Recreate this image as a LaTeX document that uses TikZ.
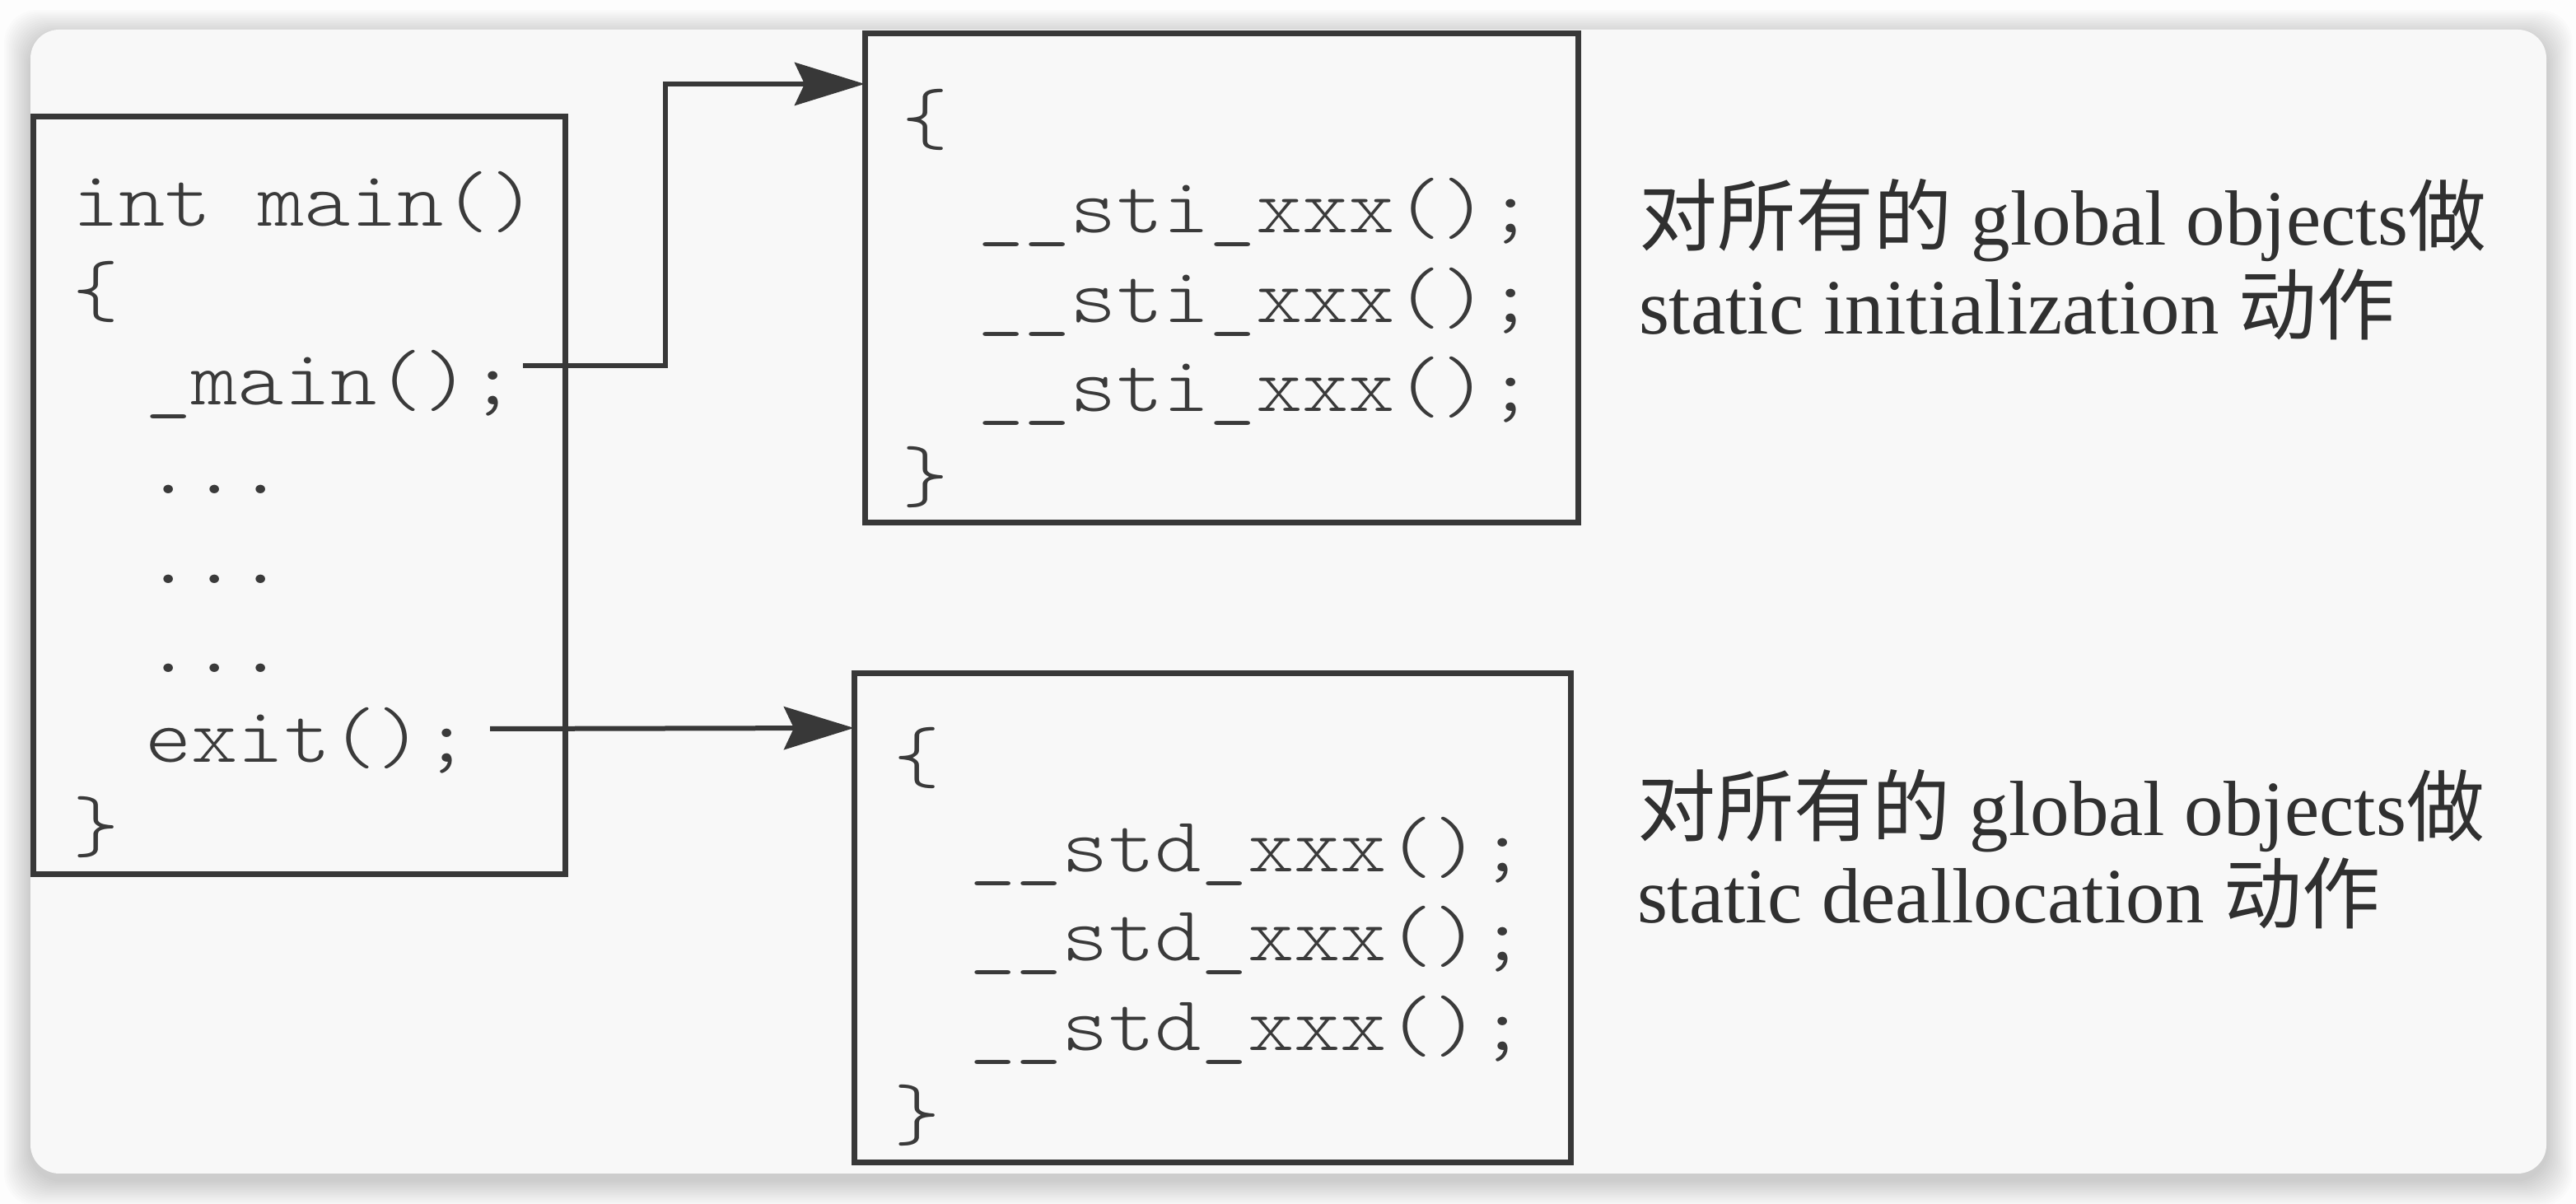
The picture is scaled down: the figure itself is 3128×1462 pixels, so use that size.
\documentclass[tikz,border=0pt]{standalone}
\usepackage{fontspec}
\setmainfont{Liberation Serif}
\setmonofont[FakeStretch=1.13]{Latin Modern Mono Light}
\newfontfamily\cjk{Noto Sans CJK SC}
\usetikzlibrary{arrows.meta}
\definecolor{pagecol}{HTML}{FDFDFD}
\definecolor{panelcol}{HTML}{F8F8F8}
\definecolor{linecol}{HTML}{383838}
\definecolor{codecol}{HTML}{3A3A3A}
\definecolor{txtcol}{HTML}{303030}
\newcommand{\codefont}{\ttfamily\fontsize{9.5pt}{10.85pt}\selectfont}
\newcommand{\notefont}{\rmfamily\fontsize{9.5pt}{10.8pt}\selectfont}
\tikzset{
  codebox/.style={draw=linecol, line width=0.7pt, inner sep=0pt, outer sep=0pt, anchor=north west},
  codeline/.style={anchor=base west, inner sep=0pt, outer sep=0pt, font=\codefont, text=codecol},
  noteline/.style={anchor=base west, inner sep=0pt, outer sep=0pt, font=\notefont, text=txtcol},
  conn/.style={draw=linecol, line width=0.6pt, -{Stealth[length=8.5pt,width=5.2pt,inset=1.2pt]}}
}
\begin{document}
\begin{tikzpicture}[x=0.1pt,y=-0.1pt]
\useasboundingbox (0,0) rectangle (3128,1462);
\fill[pagecol] (0,0) rectangle (3128,1462);
% soft shadow of the panel
\foreach \s in {2,4,...,32}{
  \fill[black,opacity=0.011,rounded corners=4pt] ({37-\s},{36-\s+8}) rectangle ({3092+\s},{1425+\s+8});
}
\fill[panelcol,rounded corners=3.5pt] (37,36) rectangle (3092,1425);

% boxes
\node[codebox, minimum width=64.7pt, minimum height=92pt] (main) at (40,142) {};
\node[codebox, minimum width=86.7pt, minimum height=59.4pt] (top) at (1050,41) {};
\node[codebox, minimum width=87.1pt, minimum height=59.4pt] (bot) at (1037,818) {};

% main code
\node[codeline] (m1) at (88,275) {int main()};
\node[codeline] (m2) at (88,384) {\{};
\node[codeline] (m3) at (176,492) {\_main();};
\node[codeline] (m4) at (176,600) {...};
\node[codeline] (m5) at (176,709) {...};
\node[codeline] (m6) at (176,817) {...};
\node[codeline] (m7) at (176,926) {exit();};
\node[codeline] (m8) at (88,1034) {\}};

% top code
\node[codeline] (t1) at (1095,175) {\{};
\node[codeline] (t2) at (1187,283) {\_\_sti\_xxx();};
\node[codeline] (t3) at (1187,392) {\_\_sti\_xxx();};
\node[codeline] (t4) at (1187,500) {\_\_sti\_xxx();};
\node[codeline] (t5) at (1095,609) {\}};

% bottom code
\node[codeline] (b1) at (1085,950) {\{};
\node[codeline] (b2) at (1177,1059) {\_\_std\_xxx();};
\node[codeline] (b3) at (1177,1167) {\_\_std\_xxx();};
\node[codeline] (b4) at (1177,1276) {\_\_std\_xxx();};
\node[codeline] (b5) at (1085,1384) {\}};

% notes
\node[noteline] (n1) at (1990,298) {{\cjk 对所有的} global objects{\cjk 做}};
\node[noteline] (n2) at (1990,406) {static initialization {\cjk 动作}};
\node[noteline] (n3) at (1988,1015) {{\cjk 对所有的} global objects{\cjk 做}};
\node[noteline] (n4) at (1988,1121) {static deallocation {\cjk 动作}};

% connectors
\coordinate (s1) at ([yshift=4.8pt]m3.base east -| 635,0);
\coordinate (s2) at ([yshift=4.1pt]m7.base east -| 595,0);
\draw[conn] (s1) -- ++(17.3pt,0) |- ([yshift=-6.1pt]top.north west);
\draw[conn] (s2) -- ([yshift=-6.6pt]bot.north west);
\end{tikzpicture}
\end{document}
